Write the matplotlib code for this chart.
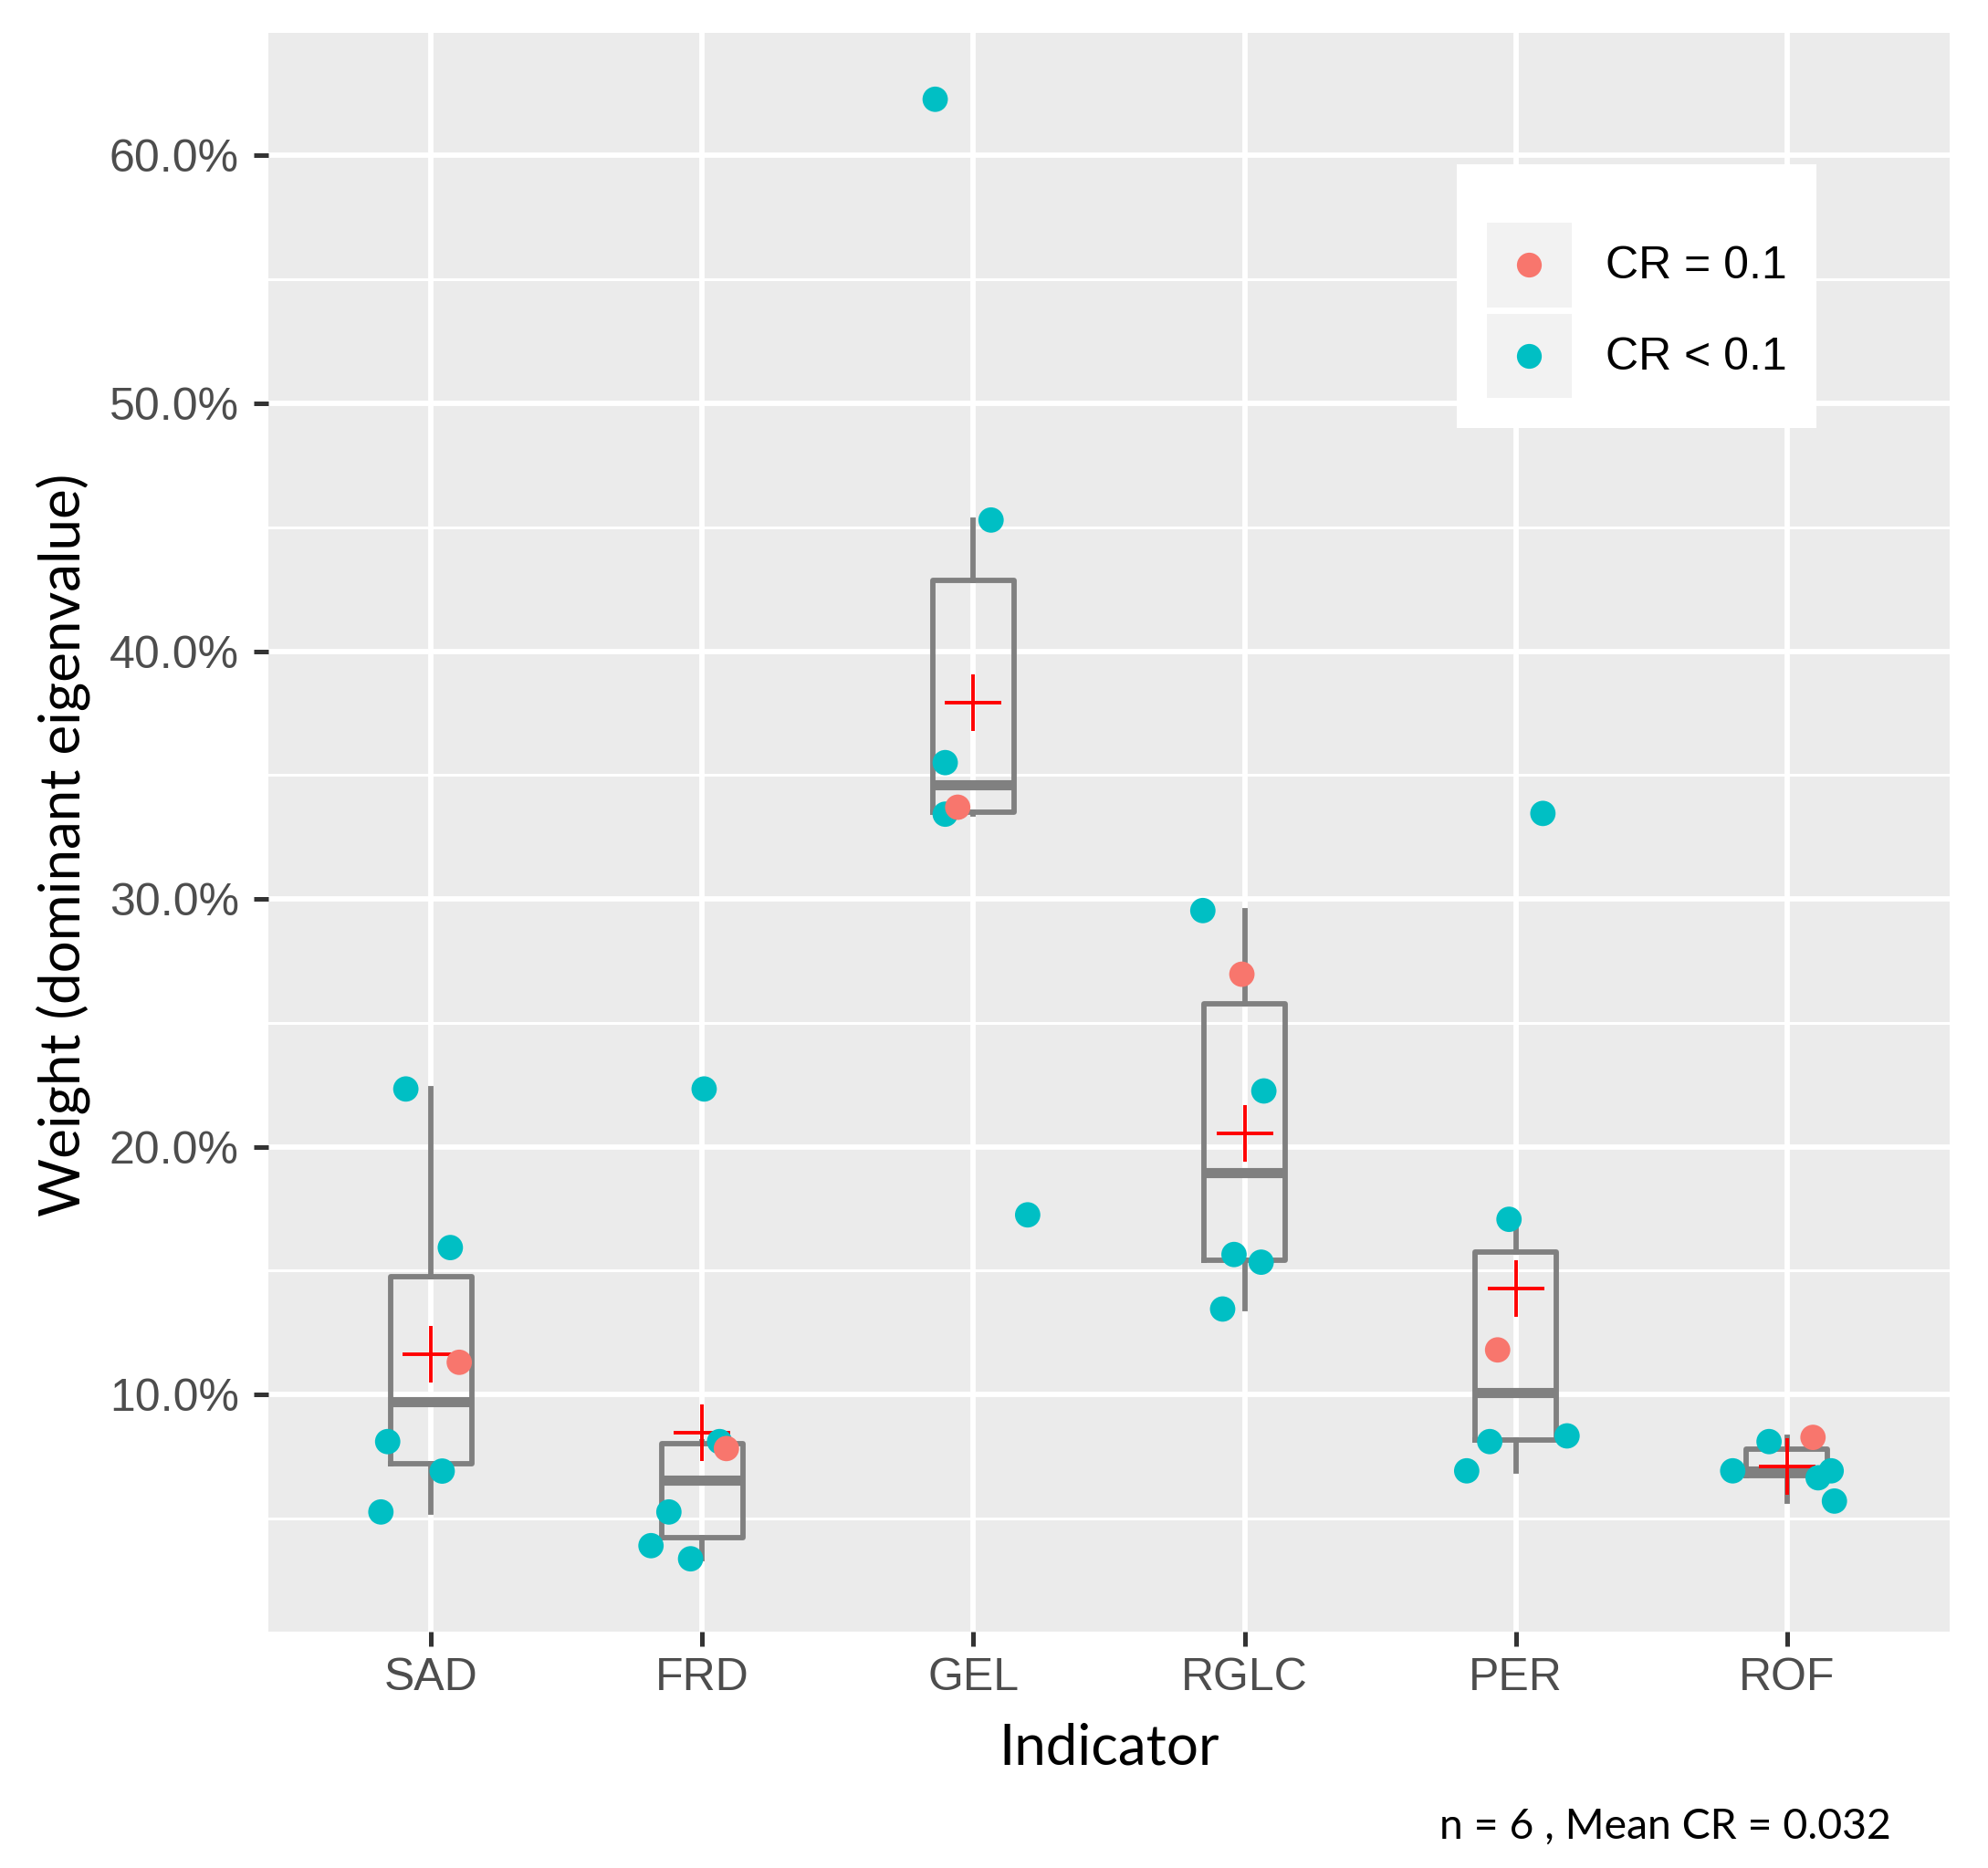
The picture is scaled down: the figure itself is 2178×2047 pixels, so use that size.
import numpy as np
import matplotlib
matplotlib.use("Agg")
import matplotlib.pyplot as plt
from matplotlib.lines import Line2D
from matplotlib.patches import Rectangle
from matplotlib.legend_handler import HandlerBase
from matplotlib.ticker import FixedLocator, FuncFormatter

# ---------------- data ----------------
categories = ["SAD", "FRD", "GEL", "RGLC", "PER", "ROF"]

# weights (%) of the six respondents per indicator
w_sad = [22.33, 15.93, 11.30, 8.10, 6.91, 5.26]
w_frd = [22.33, 8.10, 7.82, 5.26, 3.90, 3.37]
w_gel = [62.27, 45.29, 35.50, 33.42, 33.70, 17.25]
w_rglc = [29.53, 26.96, 22.25, 15.65, 15.34, 13.45]
w_per = [33.45, 17.07, 11.80, 8.10, 8.33, 6.92]
w_rof = [8.10, 8.27, 6.92, 6.92, 6.64, 5.70]

# horizontal jitter of each point (category units)
j_sad = [-0.093, 0.071, 0.104, -0.160, 0.041, -0.185]
j_frd = [0.007, 0.064, 0.089, -0.123, -0.189, -0.043]
j_gel = [-0.141, 0.065, -0.104, -0.104, -0.058, 0.200]
j_rglc = [-0.154, -0.010, 0.071, -0.039, 0.061, -0.081]
j_per = [0.100, -0.025, -0.067, -0.096, 0.189, -0.181]
j_rof = [-0.066, 0.096, -0.200, 0.163, 0.115, 0.175]

# consistency group of each point: 1 -> "CR = 0.1", 0 -> "CR < 0.1"
g_sad = [0, 0, 1, 0, 0, 0]
g_frd = [0, 0, 1, 0, 0, 0]
g_gel = [0, 0, 0, 0, 1, 0]
g_rglc = [0, 1, 0, 0, 0, 0]
g_per = [0, 0, 1, 0, 0, 0]
g_rof = [0, 1, 0, 0, 0, 0]

group_labels = ["CR = 0.1", "CR < 0.1"]
y_ticks = [10, 20, 30, 40, 50, 60]
y_minor = [5, 15, 25, 35, 45, 55]
mean_cr = 0.032

weights = [w_sad, w_frd, w_gel, w_rglc, w_per, w_rof]
jitters = [j_sad, j_frd, j_gel, j_rglc, j_per, j_rof]
groups = [g_sad, g_frd, g_gel, g_rglc, g_per, g_rof]

# ---------------- styles ----------------
RED = "#F8766D"
CYAN = "#00BFC4"
BOXC = "#808080"
PANEL = "#EBEBEB"
TICKC = "#333333"
LABC = "#4D4D4D"
TITLE_FONT = ["Lato", "DejaVu Sans"]
TICK_FONT = ["Liberation Sans", "DejaVu Sans"]
Y_LIMITS = (0.43, 64.95)

W, H, DPI = 2178, 2047, 200
fig = plt.figure(figsize=(W / DPI, H / DPI), dpi=DPI)
ax = fig.add_axes([294 / W, 1 - 1788 / H, 1842 / W, 1752 / H])
ax.set_facecolor(PANEL)
for s in ax.spines.values():
    s.set_visible(False)

pos = np.arange(len(categories))

# boxplots
ax.boxplot(weights, positions=pos, widths=0.3, showfliers=False, showcaps=False,
           whis=1.5, patch_artist=False, manage_ticks=False,
           boxprops=dict(color=BOXC, linewidth=2.1),
           whiskerprops=dict(color=BOXC, linewidth=2.1),
           medianprops=dict(color=BOXC, linewidth=4.0, solid_capstyle="butt"),
           zorder=2)

# means
means = [np.mean(w) for w in weights]
ax.plot(pos, means, ls="none", marker="+", markersize=22.5, mew=1.4,
        color="red", zorder=3)

# jittered points
xs, ys, cs = [], [], []
for i, (w, j, g) in enumerate(zip(weights, jitters, groups)):
    for wi, ji, gi in zip(w, j, g):
        xs.append(pos[i] + ji)
        ys.append(wi)
        cs.append(RED if gi == 1 else CYAN)
ax.scatter(xs, ys, s=100, c=cs, edgecolors="none", zorder=4)

# scales
ax.set_ylim(*Y_LIMITS)
ax.set_xlim(-0.6, len(categories) - 1 + 0.6)

ax.yaxis.set_major_locator(FixedLocator(y_ticks))
ax.yaxis.set_minor_locator(FixedLocator(y_minor))
ax.yaxis.set_major_formatter(FuncFormatter(lambda v, p: f"{v:.1f}%"))
ax.set_xticks(pos)
ax.set_xticklabels(categories)

ax.grid(which="major", axis="both", color="white", linewidth=2.1)
ax.grid(which="minor", axis="y", color="white", linewidth=1.1)
ax.set_axisbelow(True)

ax.tick_params(axis="both", which="major", length=5.6, width=1.8, color=TICKC,
               labelcolor=LABC, labelsize=18)
ax.tick_params(axis="y", which="major", pad=6)
ax.tick_params(axis="x", which="major", pad=4.5)
ax.tick_params(axis="y", which="minor", length=0)
for lab in ax.get_xticklabels() + ax.get_yticklabels():
    lab.set_family(TICK_FONT)

ax.set_ylabel("Weight (dominant eigenvalue)", fontsize=22.3, family=TITLE_FONT,
              color="black", va="center")
ax.yaxis.set_label_coords(-0.122, 0.492)
ax.set_xlabel("Indicator", fontsize=22.3, family=TITLE_FONT, color="black",
              va="baseline")
ax.xaxis.set_label_coords(0.5, -0.0828)

n_resp = len(w_sad)
fig.text(2072 / W, 1 - 2015 / H, f"n = {n_resp} , Mean CR = {mean_cr}",
         ha="right", va="baseline", fontsize=16.7, family=TITLE_FONT, color="black")


# legend with grey key squares
class KeyHandler(HandlerBase):
    def create_artists(self, legend, orig_handle, xdescent, ydescent, width,
                       height, fontsize, trans):
        rect = Rectangle((-xdescent, -ydescent), width, height,
                         facecolor="#F2F2F2", edgecolor="none", transform=trans)
        dot = Line2D([width / 2 - xdescent], [height / 2 - ydescent],
                     marker="o", ls="none", color=orig_handle.get_color(),
                     markersize=orig_handle.get_markersize(), mew=0,
                     transform=trans)
        return [rect, dot]


handles = [Line2D([], [], marker="o", ls="none", color=RED, markersize=9.8),
           Line2D([], [], marker="o", ls="none", color=CYAN, markersize=9.8)]
leg = ax.legend(handles, group_labels, loc="upper right",
                bbox_to_anchor=(0.921, 0.918), borderaxespad=0,
                handler_map={Line2D: KeyHandler()},
                prop={"family": TICK_FONT, "size": 18},
                handlelength=1.86, handleheight=2.48, labelspacing=0.14,
                handletextpad=0.74, borderpad=0.66,
                title=" ", title_fontsize=8.5,
                frameon=True, fancybox=False, framealpha=1.0,
                facecolor="white", edgecolor="none")
leg.set_zorder(5)

fig.savefig("out.png", dpi=DPI)
